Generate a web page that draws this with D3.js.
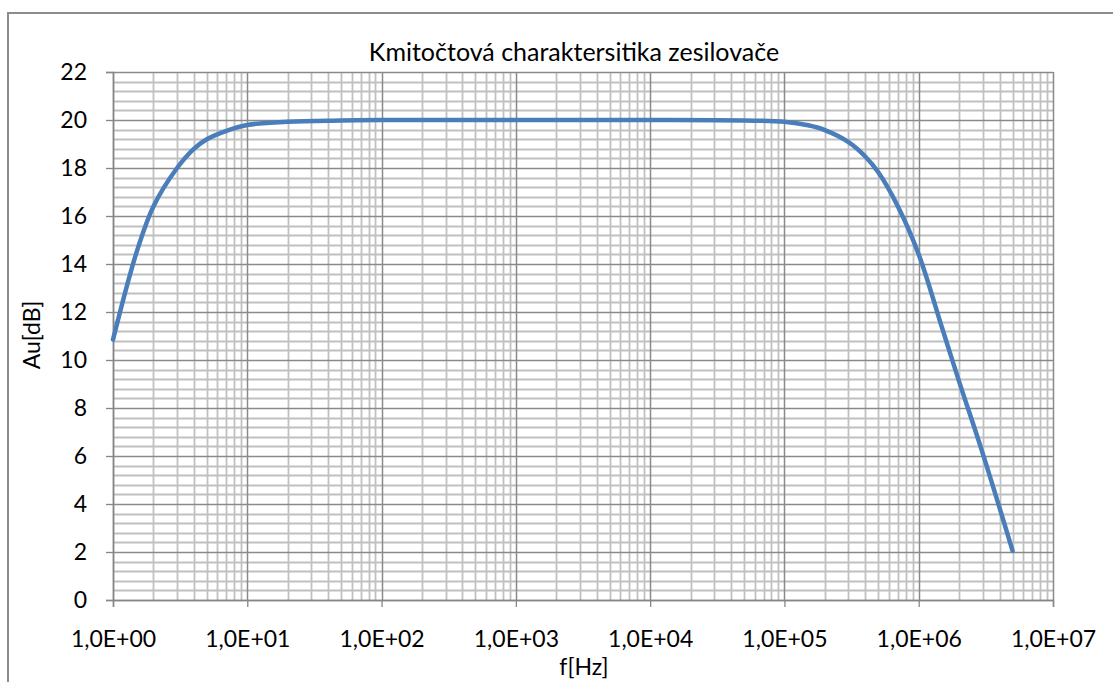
<!DOCTYPE html>
<html><head><meta charset="utf-8">
<script src="https://cdn.jsdelivr.net/npm/d3@7"></script>
<style>body{margin:0;background:#fff}svg{display:block}text{font-family:Lato,"Open Sans",sans-serif;fill:#000}</style>
</head><body><svg id="c" width="1113" height="682"></svg>
<script>
const title = "Kmitočtová charaktersitika zesilovače";
const xTitle = "f[Hz]";
const yTitle = "Au[dB]";
const freq = [1, 1.5, 2, 3, 4, 5, 7, 10, 20, 50, 100, 1000, 10000, 50000, 100000, 150000, 200000, 300000, 400000, 500000, 700000, 1000000, 1500000, 2000000, 3000000, 5000000];
const gain = [10.85, 14.5, 16.4, 18.0, 18.8, 19.2, 19.55, 19.79, 19.93, 19.98, 20, 20, 20, 19.98, 19.93, 19.78, 19.58, 19.08, 18.48, 17.82, 16.4, 14.4, 11.3, 9.1, 6.1, 2.05];
const xTickVals = [1, 10, 100, 1000, 10000, 100000, 1000000, 10000000];
const xTickLabels = ["1,0E+00", "1,0E+01", "1,0E+02", "1,0E+03", "1,0E+04", "1,0E+05", "1,0E+06", "1,0E+07"];
const yTickVals = [0, 2, 4, 6, 8, 10, 12, 14, 16, 18, 20, 22];

const svg = d3.select("#c");
const L = 113, R = 1053, T = 72, B = 600;
const x = d3.scaleLog().domain([1, 1e7]).range([L, R]);
const y = d3.scaleLinear().domain([0, 22]).range([B, T]);

svg.append("rect").attr("x", 8).attr("y", 13).attr("width", 1300).attr("height", 900)
  .attr("fill", "none").attr("stroke", "#8c8c8c").attr("stroke-width", 2);

// minor grid
const minorX = [];
for (let d = 0; d < 7; d++) for (let k = 2; k <= 9; k++) minorX.push(k * Math.pow(10, d));
const minorY = d3.range(0, 22.001, 0.4).filter(v => Math.abs(v / 2 - Math.round(v / 2)) > 1e-6);
const g = svg.append("g");
g.selectAll(".mx").data(minorX).enter().append("line")
  .attr("x1", d => Math.round(x(d)) + 0.5).attr("x2", d => Math.round(x(d)) + 0.5)
  .attr("y1", T).attr("y2", B).attr("stroke", "#c0c0c0").attr("stroke-width", 1.8);
g.selectAll(".my").data(minorY).enter().append("line")
  .attr("x1", L).attr("x2", R)
  .attr("y1", d => Math.round(y(d)) + 0.5).attr("y2", d => Math.round(y(d)) + 0.5)
  .attr("stroke", "#c0c0c0").attr("stroke-width", 1.8);
// major grid
g.selectAll(".MX").data(xTickVals).enter().append("line")
  .attr("x1", d => Math.round(x(d)) + 0.5).attr("x2", d => Math.round(x(d)) + 0.5)
  .attr("y1", T).attr("y2", B).attr("stroke", "#8a8a8a").attr("stroke-width", 1.5);
g.selectAll(".MY").data(yTickVals).enter().append("line")
  .attr("x1", L).attr("x2", R)
  .attr("y1", d => Math.round(y(d)) + 0.5).attr("y2", d => Math.round(y(d)) + 0.5)
  .attr("stroke", "#8a8a8a").attr("stroke-width", 1.5);

// axes
const xa = svg.append("g").attr("transform", `translate(0,${B})`)
  .call(d3.axisBottom(x).tickValues(xTickVals).tickFormat((d, i) => xTickLabels[i]).tickSize(7).tickPadding(24));
const ya = svg.append("g").attr("transform", `translate(${L},0)`)
  .call(d3.axisLeft(y).tickValues(yTickVals).tickSize(7).tickPadding(19));
[xa, ya].forEach(a => {
  a.select(".domain").attr("stroke", "#868686").attr("stroke-width", 1.5);
  a.selectAll(".tick line").attr("stroke", "#868686").attr("stroke-width", 1.3);
  a.selectAll("text").style("font-family", "Lato, 'Open Sans', sans-serif").style("font-size", "23px").attr("fill", "#000");
});

// line
const data = freq.map((f, i) => [f, gain[i]]);
svg.append("path").datum(data)
  .attr("d", d3.line().x(d => x(d[0])).y(d => y(d[1])).curve(d3.curveCatmullRom.alpha(0.5)))
  .attr("fill", "none").attr("stroke", "#4a7ebb").attr("stroke-width", 4.5)
  .attr("stroke-linejoin", "round").attr("stroke-linecap", "round");

// titles
svg.append("text").attr("x", 574).attr("y", 61).attr("text-anchor", "middle")
  .style("font-size", "25px").text(title);
svg.append("text").attr("x", 584).attr("y", 675).attr("text-anchor", "middle")
  .style("font-size", "23px").text(xTitle);
svg.append("text").attr("transform", "translate(40,335) rotate(-90)").attr("text-anchor", "middle")
  .style("font-size", "23px").text(yTitle);
</script></body></html>
